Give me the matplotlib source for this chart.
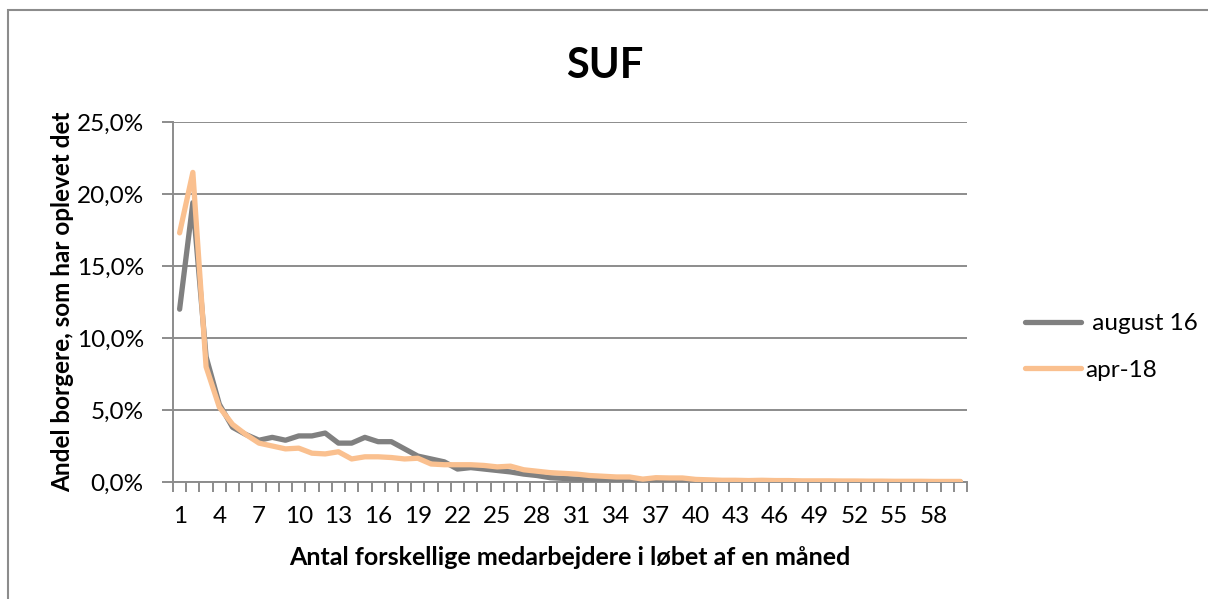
import numpy as np
import matplotlib.pyplot as plt
from matplotlib.ticker import FuncFormatter, FixedLocator
from matplotlib.patches import Rectangle

plt.rcParams['font.family'] = ['Lato', 'DejaVu Sans']

# Andel borgere (%) pr. antal forskellige medarbejdere (1..60)
categories = list(range(1, 61))
aug16 = [12.0, 19.4, 8.7, 5.4, 3.8, 3.3, 2.9, 3.1, 2.9, 3.2,
         3.2, 3.4, 2.7, 2.7, 3.1, 2.8, 2.8, 2.3, 1.8, 1.6,
         1.4, 0.9, 1.0, 0.9, 0.8, 0.7, 0.55, 0.45, 0.3, 0.25,
         0.2, 0.2, 0.15, 0.1, 0.05, 0.05, 0.04, 0.04, 0.03, 0.03,
         0.03, 0.03, 0.02, 0.02, 0.02, 0.02, 0.02, 0.02, 0.02, 0.02,
         0.01, 0.01, 0.01, 0.01, 0.01, 0.01, 0.01, 0.01, 0.01, 0.01]
apr18 = [17.3, 21.5, 8.0, 5.2, 4.0, 3.3, 2.7, 2.5, 2.3, 2.35,
         2.0, 1.95, 2.1, 1.6, 1.75, 1.75, 1.7, 1.6, 1.65, 1.25,
         1.2, 1.2, 1.2, 1.15, 1.05, 1.1, 0.85, 0.75, 0.65, 0.6,
         0.55, 0.45, 0.4, 0.35, 0.35, 0.2, 0.3, 0.28, 0.28, 0.18,
         0.15, 0.12, 0.12, 0.1, 0.12, 0.1, 0.1, 0.08, 0.08, 0.08,
         0.07, 0.07, 0.06, 0.06, 0.05, 0.05, 0.05, 0.04, 0.04, 0.04]
series_labels = [' august 16', 'apr-18']
yticks = [0, 5, 10, 15, 20, 25]

fig = plt.figure(figsize=(12.08, 5.99), dpi=100)
W, H = 1208, 599
ax = fig.add_axes([173 / W, 1 - 482 / H, (967 - 173) / W, (482 - 122) / H])

x = np.arange(len(categories))
ax.plot(x, aug16, color='#808080', lw=3.8, solid_joinstyle='round',
        solid_capstyle='round', label=series_labels[0], zorder=3)
ax.plot(x, apr18, color='#fac08f', lw=3.8, solid_joinstyle='round',
        solid_capstyle='round', label=series_labels[1], zorder=4)

ax.set_xlim(-0.5, len(categories) - 0.5)
ax.set_ylim(0, 25)

ax.set_yticks(yticks)
ax.yaxis.set_major_formatter(FuncFormatter(lambda v, p: f'{v:.1f}%'.replace('.', ',')))
ax.yaxis.grid(True, color='#8c8c8c', lw=1.4)
ax.tick_params(axis='y', length=8, width=1.4, color='#8c8c8c', labelsize=17.5, pad=13)

ax.xaxis.set_major_locator(FixedLocator(x[::3]))
ax.set_xticklabels([str(c) for c in categories[::3]])
ax.xaxis.set_minor_locator(FixedLocator(np.arange(len(categories) + 1) - 0.5))
ax.tick_params(axis='x', which='major', length=0, labelsize=17.5, pad=17)
ax.tick_params(axis='x', which='minor', length=7, width=1.4, color='#8c8c8c', direction='out')

for side in ['top', 'right']:
    ax.spines[side].set_visible(False)
for side in ['left', 'bottom']:
    ax.spines[side].set_color('#8c8c8c')
    ax.spines[side].set_linewidth(1.4)

ax.set_xlabel('Antal forskellige medarbejdere i løbet af en måned',
              fontsize=18, fontweight='bold', labelpad=14)
ax.set_ylabel('Andel borgere, som har oplevet det', fontsize=17.5,
              fontweight='bold', labelpad=2)
fig.text(605 / W, 1 - 66 / H, 'SUF', fontsize=30, fontweight='bold',
         ha='center', va='center')

fig.legend(loc='center left', bbox_to_anchor=(1003 / W, 1 - 347 / H),
           frameon=False, fontsize=17.5, handlelength=2.3, handletextpad=0.2,
           labelspacing=1.05)

fig.patches.append(Rectangle((8 / W, -0.01), 1.02, 1 - 10 / H + 0.01,
                             transform=fig.transFigure, fill=False,
                             edgecolor='#8c8c8c', lw=1.5))

fig.savefig('out.png', dpi=100)
